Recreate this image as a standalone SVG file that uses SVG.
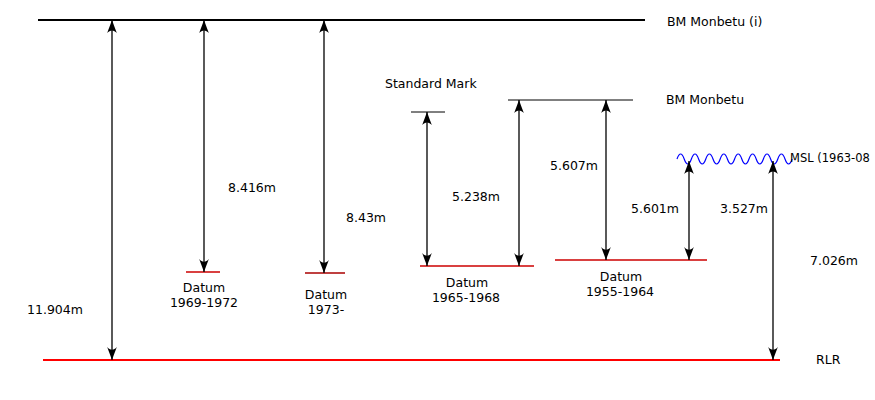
<svg xmlns="http://www.w3.org/2000/svg" width="875" height="400" viewBox="0 0 875 400">
<defs>
<marker id="ah" markerUnits="userSpaceOnUse" markerWidth="16" markerHeight="12" viewBox="-13 -6 14 12" refX="0" refY="0" orient="auto-start-reverse" overflow="visible">
<path d="M0,0 C-3,-1 -8,-3 -13,-4.8 C-9.5,-2 -9.5,2 -13,4.8 C-8,3 -3,1 0,0 Z" fill="#000"/>
</marker>
</defs>
<style>
text{font-family:"DejaVu Sans",Verdana,sans-serif;font-size:12.5px;fill:#000}
.arr{stroke:#000;stroke-width:1.3;fill:none;marker-start:url(#ah);marker-end:url(#ah)}
.lvl{stroke:#000;stroke-width:1;fill:none}
.dat{stroke:#cc0000;stroke-width:1.3;fill:none}
.mid{text-anchor:middle}
</style>
<rect width="875" height="400" fill="#fff"/>
<g id="bm-monbetu-i">
<line x1="38" y1="20" x2="645" y2="20" stroke="#000" stroke-width="2.2"/>
<text x="667" y="26">BM Monbetu (i)</text>
</g>
<g id="standard-mark">
<line class="lvl" x1="411" y1="112" x2="445" y2="112"/>
<text x="385" y="88">Standard Mark</text>
</g>
<g id="bm-monbetu">
<line class="lvl" x1="508" y1="100" x2="633" y2="100"/>
<text x="666" y="104">BM Monbetu</text>
</g>
<g id="msl">
<path d="M677,159 q3.6,-10 7.2,0 t7.2,0 t7.2,0 t7.2,0 t7.2,0 t7.2,0 t7.2,0 t7.2,0 t7.2,0 t7.2,0 t7.2,0 t7.2,0 t7.2,0 t7.2,0 t7.2,0 t7.2,0" fill="none" stroke="#0000ff" stroke-width="1.2"/>
<text x="790" y="162" style="font-size:11.5px">MSL (1963-08</text>
</g>
<g id="rlr">
<line x1="43" y1="360" x2="780" y2="360" stroke="#ff0000" stroke-width="2"/>
<text x="816" y="364">RLR</text>
</g>
<g id="datum-1969">
<line class="dat" x1="186" y1="272" x2="220" y2="272"/>
<text class="mid" x="204" y="292">Datum</text>
<text class="mid" x="204" y="307">1969-1972</text>
</g>
<g id="datum-1973">
<line class="dat" x1="305" y1="273" x2="345" y2="273" style="stroke:#aa0000"/>
<text class="mid" x="326" y="299">Datum</text>
<text class="mid" x="326" y="314">1973-</text>
</g>
<g id="datum-1965">
<line class="dat" x1="420" y1="266" x2="534" y2="266"/>
<text class="mid" x="467" y="287">Datum</text>
<text class="mid" x="466" y="302">1965-1968</text>
</g>
<g id="datum-1955">
<line class="dat" x1="555" y1="260" x2="707" y2="260"/>
<text class="mid" x="621" y="281">Datum</text>
<text class="mid" x="620" y="296">1955-1964</text>
</g>
<g id="connectors">
<line class="arr" x1="112" y1="20" x2="112" y2="360"/>
<line class="arr" x1="204" y1="20" x2="204" y2="272"/>
<line class="arr" x1="324" y1="20" x2="324" y2="273"/>
<line class="arr" x1="427" y1="112" x2="427" y2="266"/>
<line class="arr" x1="519" y1="100" x2="519" y2="266"/>
<line class="arr" x1="606" y1="100" x2="606" y2="260"/>
<line class="arr" x1="689" y1="161" x2="689" y2="260"/>
<line class="arr" x1="773" y1="161" x2="773" y2="360"/>
<text x="27" y="314">11.904m</text>
<text x="228" y="192">8.416m</text>
<text x="346" y="222">8.43m</text>
<text x="452" y="201">5.238m</text>
<text x="550" y="170">5.607m</text>
<text x="631" y="213">5.601m</text>
<text x="720" y="213">3.527m</text>
<text x="810" y="265">7.026m</text>
</g>
</svg>
